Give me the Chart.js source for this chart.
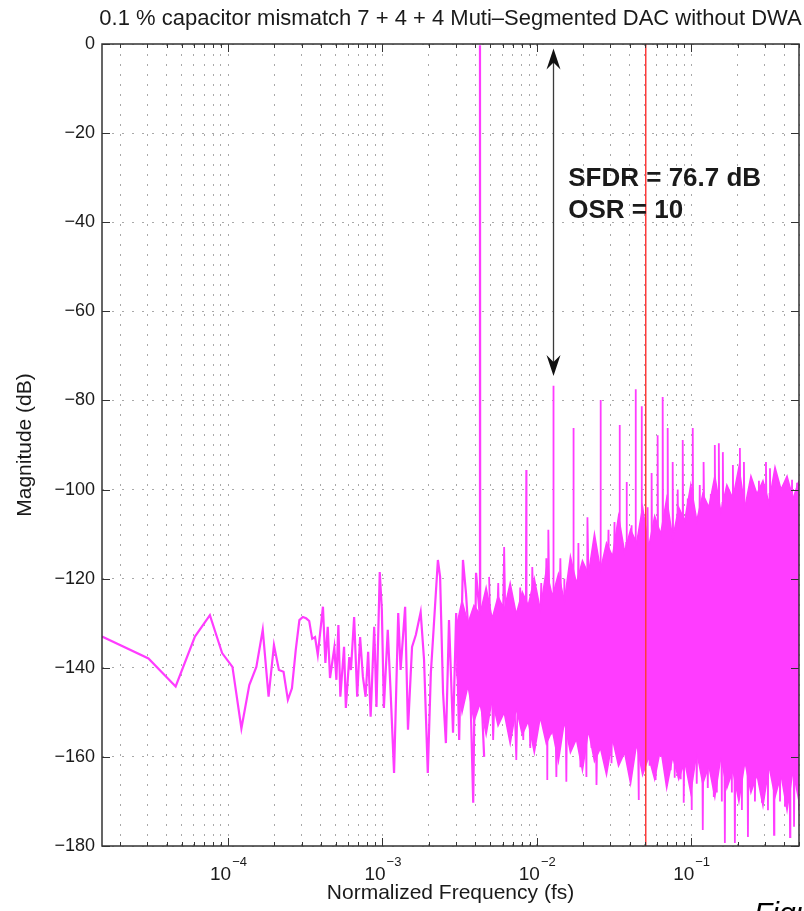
<!DOCTYPE html>
<html>
<head>
<meta charset="utf-8">
<script src="https://cdn.jsdelivr.net/npm/chart.js@4.4.0/dist/chart.umd.min.js"></script>
<style>
  html, body { margin: 0; padding: 0; background: #fff; }
  canvas { display: block; }
</style>
</head>
<body>
<canvas id="spec" width="804" height="911"></canvas>
<script>
// FFT length: x values are stored as bin numbers, shown as bin / NFFT (fs)
var NFFT = 65536;

// low-frequency part of the spectrum (distinct bins), magnitude in dB
var lowBins = [1, 2, 3, 4, 5, 6, 7, 8, 9, 10, 11, 12, 13, 14, 15, 16, 17, 18, 19, 20,
  21, 22, 23, 24, 25, 27, 28, 29, 30, 32, 33, 34, 35, 37, 38, 40, 41, 43, 45, 47,
  49, 51, 53, 55, 58, 60, 63, 65, 67, 71, 74, 78, 83, 86, 92, 96, 102, 108, 116, 122,
  129, 135, 141, 150, 155, 162, 169, 177, 188, 197, 206, 218, 228, 239, 254, 265, 280, 281, 282, 299];
var lowMag = [-133.0, -137.9, -144.2, -133.0, -128.2, -136.7, -139.8, -153.6, -143.9, -139.8,
  -131.5, -146.5, -134.9, -140.5, -140.9, -147.2, -144.6, -136, -129.3, -128.6,
  -128.9, -129.5, -133.5, -133.1, -137.1, -126.3, -138.9, -130.8, -142.3, -135.5,
  -142.7, -130.4, -146.5, -135.3, -149.0, -137.6, -140.5, -128.6, -146.5, -133.1,
  -142.0, -146.5, -136.4, -151.0, -130.8, -148.8, -118.5, -127.0, -149.0, -131.5,
  -145.0, -163.6, -127.7, -140.5, -126.3, -153.9, -135.3, -132.6, -127.5, -138.2,
  -163.6, -141.2, -130.8, -115.8, -119.6, -145.6, -156.9, -129.3, -154.6, -127.7,
  -156.2, -115.8, -123.2, -134.4, -170.3, -118.7, -128, -0.3, -140, -160];

// dense noise floor above ~3e-3 fs: upper / lower edge of the filled band
var floorBins = [197, 215, 235, 257, 281, 308, 337, 368, 403, 441, 483, 528, 577, 632, 691, 756,
  827, 905, 990, 1083, 1184, 1296, 1417, 1550, 1696, 1855, 2030, 2220, 2429, 2657, 2906, 3179,
  3478, 3805, 4162, 4553, 4981, 5449, 5960, 6520, 7132, 7802, 8535, 9336, 10213, 11172, 12221, 13369,
  14625, 15998, 17500, 19144, 20942, 22909, 25060, 27414, 29988, 32768];
var floorTop = [-131, -125, -130, -126, -128, -122, -129, -124, -127, -121, -128, -123, -126, -120, -127, -118,
  -124, -119, -125, -115, -121, -116, -119, -110, -118, -112, -115, -106, -114, -109, -112, -104,
  -113, -106, -110, -102, -111, -104, -107, -99, -107, -101, -104, -97, -105, -99, -102, -95,
  -104, -97, -101, -98, -103, -95, -100, -97, -102, -98];
var floorBottom = [-140, -150, -144, -152, -148, -155, -147, -153, -150, -157, -149, -155, -152, -159, -151, -157,
  -154, -161, -152, -159, -156, -163, -154, -161, -158, -164, -156, -162, -159, -166, -157, -164,
  -160, -165, -158, -167, -160, -165, -161, -168, -159, -166, -162, -169, -160, -167, -163, -170,
  -161, -168, -164, -171, -162, -169, -164, -172, -163, -170];

// spurs and dips of the trace that stick out of the floor
var traceBins = [322, 342, 369, 386, 403, 422, 448, 483, 512, 536, 557, 560, 563, 595, 613, 661,
  701, 734, 756, 767, 779, 815, 837, 840, 843, 878, 932, 975, 989, 1019, 1051, 1099,
  1126, 1132, 1138, 1184, 1220, 1257, 1315, 1375, 1396, 1483, 1528, 1598, 1686, 1696, 1706, 1800,
  1911, 1999, 2090, 2219, 2241, 2254, 2267, 2393, 2488, 2502, 2516, 2578, 2697, 2778, 2846, 2862,
  2878, 2977, 2994, 3011, 3113, 3131, 3149, 3276, 3426, 3529, 3615, 3636, 3657, 3861, 3955, 3978,
  4001, 4161, 4263, 4288, 4313, 4417, 4594, 4621, 4648, 4833, 4950, 4979, 5008, 5131, 5367, 5613,
  5750, 5783, 5816, 5870, 6233, 6617, 6677, 6716, 6755, 7130, 7457, 7755, 7800, 7845, 7872, 7918,
  7964, 8406, 8791, 9197, 9281, 9335, 9389, 9619, 9853, 9910, 9967, 10366, 10461, 10522, 10583, 10779,
  10842, 10905, 11512, 12041, 12152, 12223, 12294, 12516, 12589, 12662, 13489, 13568, 13647, 13980, 14326, 14410,
  14494, 15210, 15299, 15388, 16238, 16984, 18027, 18856, 19904, 20020, 20136, 20626, 21132, 21255, 21378, 22440,
  22571, 22702, 23964, 24692, 25818, 26602, 27820, 28498, 28665, 28832, 29536, 30431, 31832, 32768];
var traceMag = [-119.6, -156.2, -121, -150, -112.9, -152.4, -124, -160.7, -122, -156.2, -126, -95.6, -126, -158, -117.4, -152,
  -121, -154, -115.4, -165.2, -109, -155, -124, -76.7, -124, -164.5, -115.4, -153, -120, -165.6, -119.6, -158,
  -120, -86.2, -120, -156, -112, -162.3, -118, -164.5, -106.2, -158, -114, -166.3, -117, -79.9, -117, -158,
  -109, -161.4, -107.3, -160.7, -113, -85.5, -113, -159, -112, -98.3, -112, -162.9, -108, -158, -111, -77.5,
  -111, -160, -169.7, -160, -111, -81.3, -111, -160.7, -104, -162, -111, -96.3, -111, -165.2, -110, -87.8,
  -110, -160, -110, -79.2, -110, -161.4, -110, -86.2, -110, -163, -109, -93.8, -109, -164.7, -100, -165,
  -107, -88.9, -107, -170.3, -102, -171.9, -105, -86.2, -105, -166, -99, -162.5, -176.4, -162.5, -104, -93.8,
  -104, -167, -101, -169, -104, -90, -104, -168, -103, -89.6, -103, -170, -103, -91.6, -103, -163.5,
  -179.3, -163.5, -100, -168, -102, -94.5, -102, -164, -179.3, -164, -102, -90.7, -102, -171.9, -101.5, -93.8,
  -101.5, -164, -178, -164, -100, -170, -98, -170.3, -101, -93.8, -101, -172, -101, -95.2, -101, -165,
  -177.5, -165, -98.5, -170, -99, -171.2, -100, -165.5, -178, -165.5, -97.8, -175.7, -98.5, -172];

// axis ticks
var yTicks = [0, -20, -40, -60, -80, -100, -120, -140, -160, -180];
var xMajor = [1e-4, 1e-3, 1e-2, 1e-1];
var xMajorExp = ['\u22124', '\u22123', '\u22122', '\u22121'];

// annotation
var osr = 10;
var bandEdge = 0.5 / osr;
var sfdrBin = 840;
var arrowTopDb = -1, arrowBottomDb = -74.5;
var noteLines = ['SFDR = 76.7 dB', 'OSR = 10'];
var noteFreq = 0.016, noteDb = [-31.9, -39.0];

var titleText = '0.1 % capacitor mismatch 7 + 4 + 4 Muti\u2013Segmented DAC without DWA';

var MAG = '#ff3cff';
var INK = '#1a1a1a';
var FONT = '"Liberation Sans", Arial, Helvetica, sans-serif';
var xMin = 1 / NFFT, xMax = 0.5;

// grid positions 1..9 x each decade inside the axis range
var xGridTicks = [];
[1e-5, 1e-4, 1e-3, 1e-2, 1e-1].forEach(function (d) {
  for (var m = 1; m <= 9; m++) {
    var v = m * d;
    if (v >= xMin * 0.999 && v <= xMax * 1.001) xGridTicks.push(v);
  }
});

function pts(bins, mags) {
  return bins.map(function (b, i) { return { x: b / NFFT, y: mags[i] }; });
}

function minus(v) { return v < 0 ? '\u2212' + Math.abs(v) : String(v); }

function isDecade(v) { return Math.abs(Math.log10(v) - Math.round(Math.log10(v))) < 1e-9; }

function arrowHead(ctx, x, y, dir) {
  ctx.beginPath();
  ctx.moveTo(x, y);
  ctx.lineTo(x - 7, y + dir * 21);
  ctx.lineTo(x, y + dir * 14);
  ctx.lineTo(x + 7, y + dir * 21);
  ctx.closePath();
  ctx.fill();
}

var decor = {
  id: 'decor',
  afterDatasetsDraw: function (chart) {
    var ctx = chart.ctx, xs = chart.scales.x, ys = chart.scales.y, a = chart.chartArea;
    ctx.save();
    // signal band edge fs/(2*OSR)
    var xe = Math.round(xs.getPixelForValue(bandEdge));
    ctx.fillStyle = '#ff3a3a';
    ctx.fillRect(xe, a.top, 1.5, a.bottom - a.top);

    // SFDR arrow
    var ax = Math.round(xs.getPixelForValue(sfdrBin / NFFT)) + 0.5;
    var y1 = ys.getPixelForValue(arrowTopDb), y2 = ys.getPixelForValue(arrowBottomDb);
    ctx.strokeStyle = '#3a3a3a';
    ctx.lineWidth = 1.3;
    ctx.beginPath(); ctx.moveTo(ax, y1 + 12); ctx.lineTo(ax, y2 - 12); ctx.stroke();
    ctx.fillStyle = '#111';
    arrowHead(ctx, ax, y1, 1);
    arrowHead(ctx, ax, y2, -1);

    ctx.fillStyle = INK;
    ctx.font = 'bold 26px ' + FONT;
    ctx.textAlign = 'left';
    ctx.textBaseline = 'alphabetic';
    var nx = xs.getPixelForValue(noteFreq);
    noteLines.forEach(function (t, i) { ctx.fillText(t, nx, ys.getPixelForValue(noteDb[i])); });
    ctx.restore();
  },
  afterDraw: function (chart) {
    var ctx = chart.ctx, xs = chart.scales.x, ys = chart.scales.y, a = chart.chartArea;
    ctx.save();
    // axes box with inward ticks
    ctx.strokeStyle = '#333';
    ctx.lineWidth = 1.5;
    ctx.strokeRect(a.left, a.top, a.right - a.left, a.bottom - a.top);
    ctx.lineWidth = 1;
    ctx.beginPath();
    xGridTicks.forEach(function (v) {
      var px = Math.round(xs.getPixelForValue(v)) + 0.5;
      var len = isDecade(v) ? 8 : 4;
      ctx.moveTo(px, a.bottom); ctx.lineTo(px, a.bottom - len);
      ctx.moveTo(px, a.top); ctx.lineTo(px, a.top + len);
    });
    yTicks.forEach(function (v) {
      var py = Math.round(ys.getPixelForValue(v)) + 0.5;
      ctx.moveTo(a.left, py); ctx.lineTo(a.left + 8, py);
      ctx.moveTo(a.right, py); ctx.lineTo(a.right - 8, py);
    });
    ctx.stroke();

    ctx.fillStyle = INK;
    // y tick labels
    ctx.font = '18px ' + FONT;
    ctx.textAlign = 'right';
    ctx.textBaseline = 'middle';
    yTicks.forEach(function (v) { ctx.fillText(minus(v), a.left - 7, ys.getPixelForValue(v)); });

    // x tick labels 10^n
    ctx.textAlign = 'left';
    ctx.textBaseline = 'alphabetic';
    xMajor.forEach(function (v, i) {
      var px = xs.getPixelForValue(v);
      ctx.font = '19px ' + FONT;
      var w1 = ctx.measureText('10').width;
      ctx.font = '13px ' + FONT;
      var w2 = ctx.measureText(xMajorExp[i]).width;
      var x0 = px - (w1 + w2) / 2;
      ctx.font = '19px ' + FONT;
      ctx.fillText('10', x0, a.bottom + 34);
      ctx.font = '13px ' + FONT;
      ctx.fillText(xMajorExp[i], x0 + w1 + 1, a.bottom + 20);
    });

    // axis titles
    ctx.font = '21px ' + FONT;
    ctx.textAlign = 'center';
    ctx.fillText('Normalized Frequency (fs)', (a.left + a.right) / 2, 899);
    ctx.save();
    ctx.translate(25, (a.top + a.bottom) / 2);
    ctx.rotate(-Math.PI / 2);
    ctx.textBaseline = 'middle';
    ctx.fillText('Magnitude (dB)', 0, 0);
    ctx.restore();

    // title
    ctx.font = '22px ' + FONT;
    ctx.textAlign = 'center';
    ctx.textBaseline = 'alphabetic';
    ctx.fillText(titleText, (a.left + a.right) / 2, 25);

    // figure caption, cut by the page edge
    ctx.font = 'italic 30px ' + FONT;
    ctx.textAlign = 'left';
    ctx.fillStyle = '#000';
    ctx.fillText('Figure', 754, 923);
    ctx.restore();
  }
};

var gridOpts = { color: '#a9a9a9', lineWidth: 1, drawTicks: false };

new Chart(document.getElementById('spec').getContext('2d'), {
  type: 'line',
  data: {
    datasets: [
      { label: 'floor top', data: pts(floorBins, floorTop), borderColor: MAG, backgroundColor: MAG,
        borderWidth: 1.5, pointRadius: 0, tension: 0, fill: '+1' },
      { label: 'floor bottom', data: pts(floorBins, floorBottom), borderColor: MAG,
        borderWidth: 1.5, pointRadius: 0, tension: 0, fill: false },
      { label: 'low', data: pts(lowBins, lowMag), borderColor: MAG,
        borderWidth: 2.2, pointRadius: 0, tension: 0, fill: false },
      { label: 'trace', data: pts(traceBins, traceMag), borderColor: MAG,
        borderWidth: 1.8, pointRadius: 0, tension: 0, fill: false }
    ]
  },
  options: {
    responsive: false,
    animation: false,
    events: [],
    layout: { padding: { top: 44, right: 5, left: 0, bottom: 0 } },
    plugins: { legend: { display: false }, tooltip: { enabled: false }, title: { display: false } },
    scales: {
      x: {
        type: 'logarithmic', min: xMin, max: xMax,
        afterBuildTicks: function (s) { s.ticks = xGridTicks.map(function (v) { return { value: v }; }); },
        afterFit: function (s) { s.height = 65; },
        ticks: { display: false },
        grid: gridOpts,
        border: { display: false, dash: [2, 8] }
      },
      y: {
        min: -180, max: 0,
        afterBuildTicks: function (s) { s.ticks = yTicks.map(function (v) { return { value: v }; }); },
        afterFit: function (s) { s.width = 102; },
        ticks: { display: false },
        grid: gridOpts,
        border: { display: false, dash: [2, 8] }
      }
    }
  },
  plugins: [decor]
});
</script>
</body>
</html>
